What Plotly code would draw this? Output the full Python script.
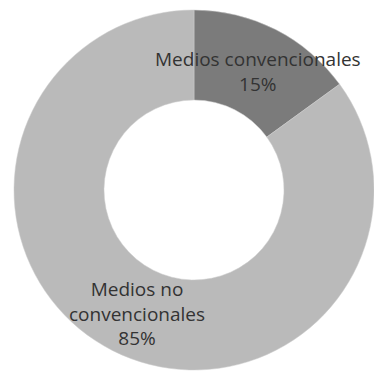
import plotly.graph_objects as go

labels = ["Medios convencionales", "Medios no convencionales"]
values = [15, 85]
label_text = ["Medios convencionales", "Medios no<br>convencionales"]
colors = ["#7b7b7b", "#bababa"]

W, H = 374, 373

fig = go.Figure(go.Pie(
    labels=labels,
    values=values,
    hole=0.5,
    sort=False,
    direction="clockwise",
    rotation=0,
    textinfo="none",
    hoverinfo="label+percent",
    marker=dict(colors=colors, line=dict(color="#cccccc", width=0.5)),
    domain=dict(x=[14 / W, 1.0], y=[3 / H, 363 / H]),
    showlegend=False,
))

total = sum(values)
label_pos = [(258 / W, 1 - 71 / H), (137 / W, 1 - 313 / H)]
for txt, v, (ax, ay) in zip(label_text, values, label_pos):
    fig.add_annotation(
        x=ax, y=ay, xref="paper", yref="paper",
        text=f"{txt}<br>{round(100 * v / total)}%",
        showarrow=False,
        font=dict(family="Open Sans", size=19, color="#333333"),
        align="center", xanchor="center", yanchor="middle",
    )

fig.update_layout(
    width=W, height=H,
    margin=dict(l=0, r=0, t=0, b=0),
    paper_bgcolor="white",
    plot_bgcolor="white",
)

fig.write_html("out.html")
